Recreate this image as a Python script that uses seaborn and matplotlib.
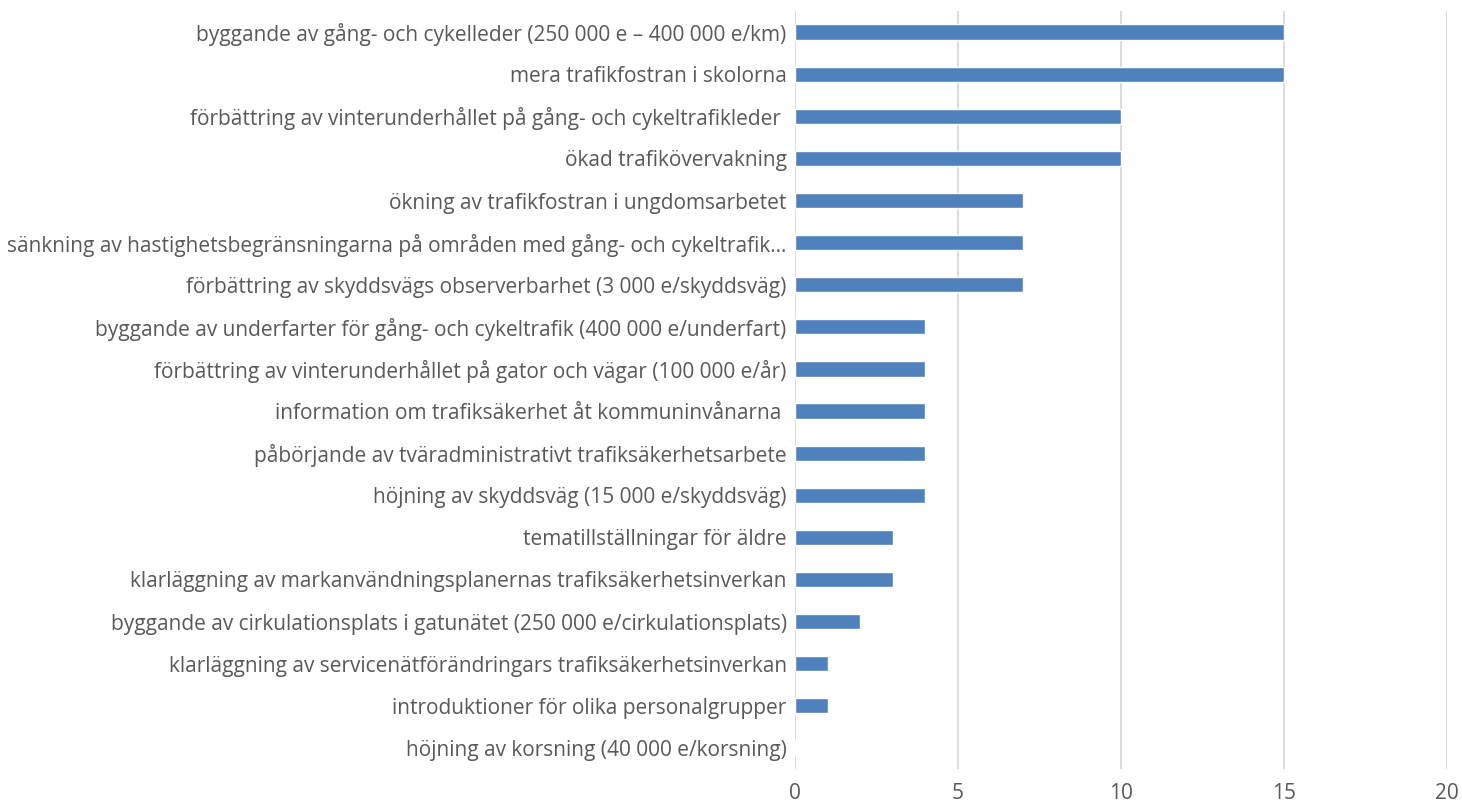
import matplotlib
matplotlib.use("Agg")
import matplotlib.pyplot as plt
import seaborn as sns
import pandas as pd

categories = [
    "byggande av gång- och cykelleder (250 000 e – 400 000 e/km)",
    "mera trafikfostran i skolorna",
    "förbättring av vinterunderhållet på gång- och cykeltrafikleder ",
    "ökad trafikövervakning",
    "ökning av trafikfostran i ungdomsarbetet",
    "sänkning av hastighetsbegränsningarna på områden med gång- och cykeltrafik…",
    "förbättring av skyddsvägs observerbarhet (3 000 e/skyddsväg)",
    "byggande av underfarter för gång- och cykeltrafik (400 000 e/underfart)",
    "förbättring av vinterunderhållet på gator och vägar (100 000 e/år)",
    "information om trafiksäkerhet åt kommuninvånarna ",
    "påbörjande av tväradministrativt trafiksäkerhetsarbete",
    "höjning av skyddsväg (15 000 e/skyddsväg)",
    "tematillställningar för äldre",
    "klarläggning av markanvändningsplanernas trafiksäkerhetsinverkan",
    "byggande av cirkulationsplats i gatunätet (250 000 e/cirkulationsplats)",
    "klarläggning av servicenätförändringars trafiksäkerhetsinverkan",
    "introduktioner för olika personalgrupper",
    "höjning av korsning (40 000 e/korsning)",
]
values = [15, 15, 10, 10, 7, 7, 7, 4, 4, 4, 4, 4, 3, 3, 2, 1, 1, 0]
xticks = [0, 5, 10, 15, 20]

sns.set_theme(style="white")
plt.rcParams['font.family'] = ['Open Sans', 'DejaVu Sans']

df = pd.DataFrame({"cat": categories, "val": values})

fig = plt.figure(figsize=(14.62, 8.10), dpi=100)
ax = fig.add_axes([795/1462, 1-769/810, (1447-795)/1462, (769-11)/810])
sns.barplot(data=df, y="cat", x="val", orient="h", color="#4F81BD",
            saturation=1, width=0.36, ax=ax, order=categories)
ax.set_xlim(0, 20)
ax.set_xticks(xticks)
ax.xaxis.grid(True, color="#D9D9D9", linewidth=1.3)
ax.set_axisbelow(True)
for s in ax.spines.values():
    s.set_visible(False)
ax.set_xlabel("")
ax.set_ylabel("")
ax.tick_params(axis="y", length=0, pad=6, labelsize=15, labelcolor="#595959")
ax.tick_params(axis="x", length=0, pad=10, labelsize=15, labelcolor="#595959")
fig.savefig("out.png", dpi=100)
